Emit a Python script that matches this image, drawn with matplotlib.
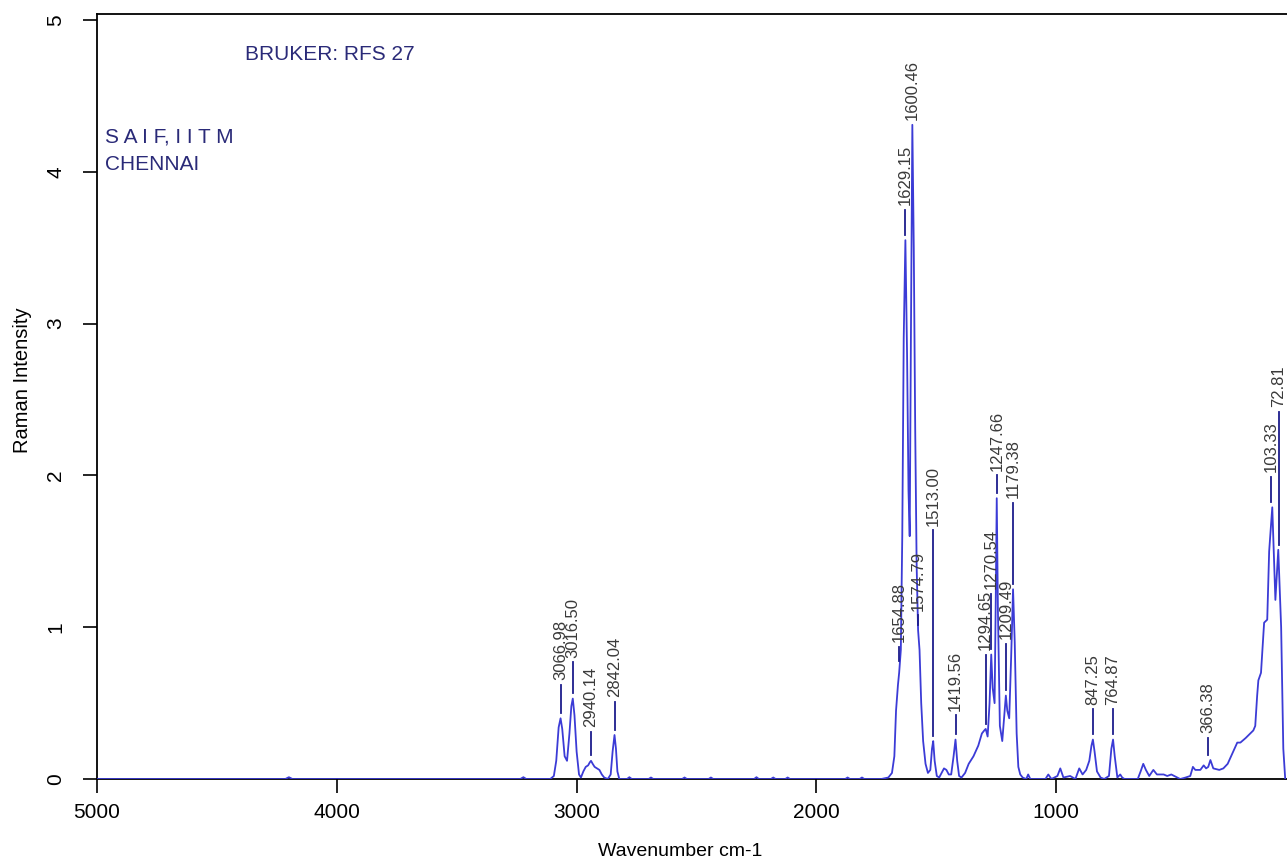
import matplotlib
matplotlib.use("Agg")
import matplotlib.pyplot as plt

plt.rcParams['font.family'] = ['Liberation Sans', 'DejaVu Sans']

# spectrum (wavenumber cm-1, Raman intensity)
wavenumber = [5000, 4215, 4200, 4185, 3235, 3222, 3210, 3110, 3095, 3085, 3075, 3067,
              3060, 3050, 3040, 3030, 3022, 3016, 3009, 3000, 2990, 2982, 2972, 2962,
              2952, 2945, 2940, 2933, 2925, 2915, 2905, 2895, 2885, 2870, 2858, 2850,
              2842, 2836, 2830, 2822, 2790, 2780, 2770, 2700, 2690, 2680, 2560, 2550,
              2540, 2450, 2440, 2430, 2260, 2250, 2240, 2190, 2180, 2170, 2130, 2120,
              2110, 1880, 1870, 1860, 1820, 1810, 1800, 1730, 1700, 1685, 1675, 1668,
              1660, 1655, 1648, 1642, 1636, 1629, 1622, 1616, 1611, 1606, 1600, 1594,
              1588, 1582, 1576, 1570, 1563, 1555, 1545, 1535, 1525, 1518, 1513, 1507,
              1498, 1488, 1478, 1468, 1458, 1448, 1438, 1428, 1420, 1413, 1405, 1395,
              1380, 1365, 1345, 1325, 1310, 1300, 1294, 1286, 1278, 1271, 1265, 1257,
              1252, 1248, 1243, 1235, 1225, 1215, 1210, 1204, 1196, 1188, 1180, 1173,
              1165, 1158, 1150, 1140, 1125, 1117, 1108, 1090, 1045, 1033, 1020, 995,
              983, 970, 942, 920, 904, 890, 875, 862, 853, 847, 840, 830, 815, 800,
              780, 770, 763, 756, 745, 733, 725, 715, 690, 660, 648, 637, 626, 612,
              595, 580, 566, 552, 537, 520, 483, 460, 441, 430, 420, 410, 399, 385,
              375, 366, 357, 345, 320, 303, 285, 262, 245, 232, 210, 191, 178, 170,
              162, 157, 146, 133, 120, 112, 99, 86, 74, 62, 53, 45]
intensity = [0, 0, 0.012, 0, 0, 0.012, 0, 0, 0.02, 0.12, 0.34, 0.40,
             0.33, 0.15, 0.12, 0.30, 0.48, 0.53, 0.42, 0.18, 0.03, 0.01, 0.05, 0.08,
             0.09, 0.11, 0.12, 0.10, 0.08, 0.07, 0.06, 0.03, 0.01, 0.0, 0.03, 0.18,
             0.29, 0.20, 0.05, 0, 0, 0.012, 0, 0, 0.01, 0, 0, 0.01,
             0, 0, 0.01, 0, 0, 0.012, 0, 0, 0.01, 0, 0, 0.01,
             0, 0, 0.01, 0, 0, 0.01, 0, 0, 0.01, 0.04, 0.15, 0.45,
             0.62, 0.70, 0.85, 1.6, 2.9, 3.55, 2.8, 1.9, 1.6, 2.9, 4.31, 3.5,
             2.3, 1.4, 0.98, 0.85, 0.5, 0.25, 0.10, 0.04, 0.06, 0.20, 0.25, 0.12,
             0.02, 0.01, 0.04, 0.07, 0.06, 0.03, 0.03, 0.15, 0.26, 0.12, 0.02, 0.01,
             0.04, 0.10, 0.15, 0.22, 0.30, 0.32, 0.33, 0.28, 0.50, 0.82, 0.60, 0.50,
             1.2, 1.85, 1.1, 0.35, 0.25, 0.45, 0.55, 0.45, 0.40, 0.80, 1.25, 0.90,
             0.30, 0.08, 0.03, 0.01, 0.0, 0.03, 0.0, 0.0, 0.0, 0.03, 0.0, 0.02,
             0.07, 0.01, 0.02, 0.0, 0.07, 0.03, 0.06, 0.12, 0.22, 0.26, 0.18, 0.05,
             0.01, 0.0, 0.02, 0.20, 0.26, 0.15, 0.01, 0.03, 0.01, 0.0, 0.0, 0.0,
             0.05, 0.10, 0.06, 0.02, 0.06, 0.03, 0.03, 0.03, 0.02, 0.03, 0.0, 0.01,
             0.02, 0.08, 0.06, 0.06, 0.06, 0.09, 0.07, 0.08, 0.125, 0.07, 0.06, 0.07,
             0.10, 0.18, 0.24, 0.24, 0.27, 0.30, 0.32, 0.35, 0.55, 0.65, 0.70, 1.03,
             1.05, 1.50, 1.79, 1.18, 1.51, 1.0, 0.2, 0.0]

# picked peaks
peak_wn = [3066.98, 3016.50, 2940.14, 2842.04, 1654.88, 1629.15, 1600.46, 1574.79,
           1513.00, 1419.56, 1294.65, 1270.54, 1247.66, 1209.49, 1179.38, 847.25,
           764.87, 366.38, 103.33, 72.81]
peak_int = [0.40, 0.53, 0.12, 0.29, 0.74, 3.55, 4.31, 0.98,
            0.25, 0.26, 0.33, 0.82, 1.85, 0.55, 1.25, 0.26,
            0.26, 0.125, 1.79, 1.51]
# height where each rotated label starts
label_base = [0.65, 0.80, 0.34, 0.54, 0.90, 3.78, 4.34, 1.11,
              1.67, 0.45, 0.85, 1.25, 2.03, 0.92, 1.85, 0.49,
              0.49, 0.30, 2.02, 2.45]

fig = plt.figure(figsize=(12.87, 8.65), dpi=100)
ax = fig.add_axes([0.0754, 0.0994, 0.9316, 0.8844])

ax.plot(wavenumber, intensity, color='#3b3bd6', lw=1.3, zorder=3)

for w, h, b in zip(peak_wn, peak_int, label_base):
    lo, hi = h + 0.035, b - 0.03
    if hi > lo:
        ax.plot([w, w], [lo, hi], color='#1c1c8c', lw=1.3, zorder=4)
    ax.text(w, b, '%.2f' % w, rotation=90, ha='center', va='bottom',
            fontsize=12, color='#3a3a3a', zorder=5)

ax.set_xlim(5000, 0)
ax.set_ylim(0, 5.04)
ax.set_xticks([5000, 4000, 3000, 2000, 1000])
ax.set_yticks([0, 1, 2, 3, 4, 5])
ax.spines['right'].set_visible(False)
for s in ['left', 'top', 'bottom']:
    ax.spines[s].set_linewidth(1.3)
ax.tick_params(axis='both', direction='out', length=10, width=1.2, labelsize=15)
ax.tick_params(axis='x', pad=7)
ax.tick_params(axis='y', pad=13)
for t in ax.get_yticklabels():
    t.set_rotation(90)
    t.set_va('center')

fig.text(680 / 1287, 1 - 852 / 865, 'Wavenumber cm-1', ha='center', va='center', fontsize=14)
fig.text(22 / 1287, 1 - 380 / 865, 'Raman Intensity', ha='center', va='center',
         rotation=90, fontsize=14.5)

fig.text(245 / 1287, 1 - 55 / 865, 'BRUKER: RFS 27', ha='left', va='center',
         fontsize=15, color='#2a2a78')
fig.text(105 / 1287, 1 - 137 / 865, 'S A I F, I I T M', ha='left', va='center',
         fontsize=15, color='#2a2a78')
fig.text(105 / 1287, 1 - 165 / 865, 'CHENNAI', ha='left', va='center',
         fontsize=15, color='#2a2a78')

fig.savefig('out.png', dpi=100)
